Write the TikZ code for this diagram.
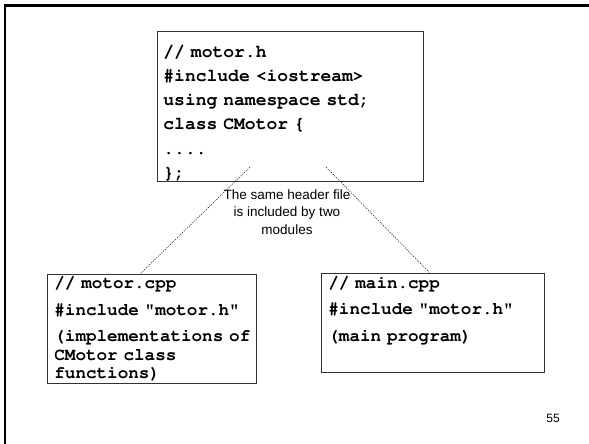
\documentclass[tikz,border=0pt]{standalone}
\usepackage[T1,TU]{fontenc}
\usepackage{fontspec}
\setmainfont{Liberation Sans}
\usepackage{tikz}
\usetikzlibrary{positioning}

\newcommand{\codefont}[2]{\fontencoding{T1}\fontfamily{pcr}\fontseries{b}\fontsize{#1}{#2}\selectfont
  \frenchspacing\setlength{\spaceskip}{0.6em}}

\begin{document}
\begin{tikzpicture}[x=1pt, y=-1pt, every node/.style={align=left},
    codebox/.style={draw=black!80, line width=0.8pt, anchor=north west, inner ysep=3pt, inner xsep=7pt,
      font=\codefont{17.6}{18.5}},
    link/.style={black!85, line width=0.6pt, dash pattern=on 1.2pt off 1.2pt}]
  \useasboundingbox (0,0) rectangle (589,444);
  % slide frame
  \draw[line width=2.5pt] (5,444) -- (5,5.3) -- (589,5.3);

  % header file
  \node (hdr) [codebox, inner xsep=6pt, inner ysep=1pt, text width=254pt,
    font=\codefont{18}{24.2}] at (157,31)
    {\rule{0pt}{25pt}// motor.h\\ \#include <iostream>\\ using namespace std;\\ class CMotor \{\\ ....\\ \};};

  % two modules
  \node (cpp) [codebox, text width=195pt] at (47,274)
    {// motor.cpp\\[8pt] \#include "motor.h"\\[8pt] \mbox{(implementations of}\\ CMotor class\\ functions)};
  \node (mainc) [codebox, text width=209pt] at (321,273)
    {// main.cpp\\[8pt] \#include "motor.h"\\[8pt] (main program)\\[10pt] \mbox{}};

  % links
  \coordinate (hdrL) at (250,167);
  \coordinate (hdrR) at (326,167);
  \draw[link] (hdrL) -- ([xshift=93pt]cpp.north west);
  \draw[link] (hdrR) -- ([xshift=-3pt]mainc.north);

  \node (note) [align=center, font=\fontsize{13.5}{17.5}\selectfont] at (287,212)
    {The same header file\\ is included by two\\ modules};

  \node (pnum) [font=\fontsize{12}{14}\selectfont] at (553,418) {55};
\end{tikzpicture}
\end{document}
